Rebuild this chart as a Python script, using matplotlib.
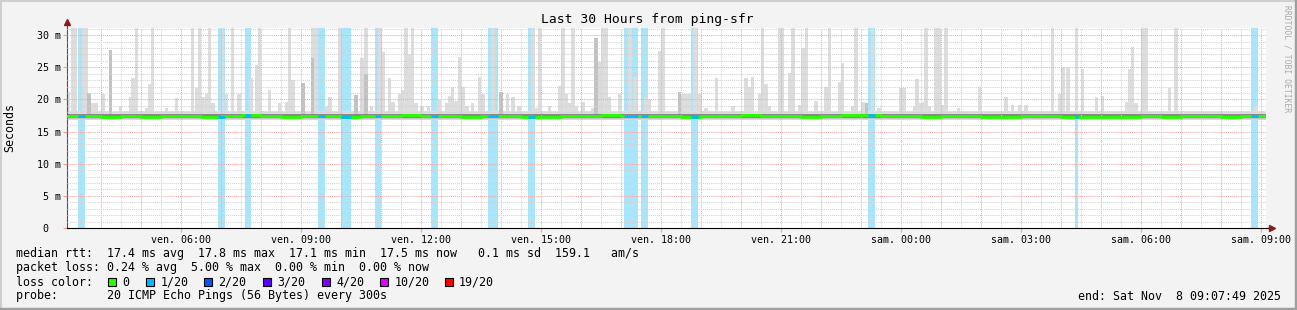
import numpy as np
import matplotlib
matplotlib.use('Agg')
import matplotlib.pyplot as plt
from matplotlib.patches import Rectangle
from matplotlib.lines import Line2D

W, H = 1297, 310
MONO = 'DejaVu Sans Mono'

# time axis: hours since Friday 00:00 (graph ends Sat 09:07:49)
t_start, t_end = 3.15, 33.13

# smoke columns (5 min each): time and highest ping (ms); 31.5 = clipped at top
spike_t = [3.18, 3.28, 3.35, 3.55, 3.63, 3.70, 3.80, 3.88, 4.05, 4.23,
           4.48, 4.73, 4.80, 4.89, 5.13, 5.21, 5.29, 5.63, 5.88, 6.29,
           6.38, 6.46, 6.55, 6.63, 6.71, 6.80, 7.04, 7.13, 7.29, 7.45,
           7.75, 7.89, 7.96,
           8.21, 8.46, 8.64, 8.71, 8.80, 9.05, 9.29, 9.38, 9.65, 9.73,
           9.96, 10.38, 10.53, 10.63, 10.76, 10.98, 11.06, 11.21, 11.30, 11.46,
           11.55, 11.63, 11.71, 11.79, 11.88, 12.03, 12.19, 12.45, 12.64, 12.71,
           12.79, 12.88, 12.96, 13.05,
           13.15, 13.29, 13.46, 13.55, 13.80, 14.00, 14.16, 14.30, 14.45, 14.80,
           14.89, 14.96, 15.21, 15.46, 15.55, 15.64, 15.71, 15.80, 15.89, 16.05,
           16.30, 16.38, 16.46, 16.55, 16.64, 16.71, 16.96, 17.23, 17.35, 17.63,
           17.71, 17.96, 18.05,
           18.46, 18.55, 18.64, 18.71, 18.85, 18.98, 19.13, 19.39, 19.80, 20.13,
           20.21, 20.29, 20.46, 20.54, 20.63, 20.71, 20.96, 21.04, 21.21, 21.30,
           21.46, 21.55, 21.64, 21.88, 22.13, 22.21, 22.46, 22.54, 22.79, 22.88,
           23.05,
           23.14, 23.29, 23.45, 24.00, 24.08, 24.35, 24.40, 24.50, 24.56, 24.63,
           24.71, 24.88, 24.96, 25.04, 25.13, 25.44, 25.96, 26.63, 26.79, 26.96,
           27.13, 27.79, 27.96, 28.05,
           28.18, 28.39, 28.54, 28.89, 29.05, 29.64, 29.71, 29.80, 29.88, 30.04,
           30.13, 30.71, 30.88, 32.88]
spike_hi = [21.2, 31.5, 31.5, 31.5, 31.5, 21.0, 19.4, 19.4, 20.8, 27.7,
            18.9, 20.4, 23.3, 31.5, 18.6, 22.4, 31.5, 18.6, 20.2, 31.5,
            21.7, 31.5, 20.4, 20.8, 31.5, 19.4, 31.5, 20.8, 31.5, 20.8,
            23.3, 25.3, 31.5,
            21.5, 19.4, 19.6, 31.5, 23.0, 22.5, 31.5, 31.5, 18.9, 20.4,
            31.5, 20.7, 26.4, 31.5, 18.9, 31.5, 27.4, 23.3, 19.6, 20.8,
            21.5, 31.5, 27.0, 31.5, 19.4, 18.9, 18.9, 19.9, 19.4, 20.6,
            21.9, 19.8, 26.6, 21.9,
            18.9, 19.4, 23.5, 20.8, 31.5, 21.2, 20.8, 20.4, 18.9, 31.5,
            18.6, 31.5, 18.9, 22.1, 31.5, 20.8, 19.4, 31.5, 18.9, 19.6,
            18.6, 29.5, 25.8, 31.5, 31.5, 20.4, 20.8, 31.5, 23.5, 20.4,
            20.0, 27.5, 31.5,
            21.2, 20.8, 20.8, 20.8, 31.5, 20.8, 18.6, 23.3, 18.9, 23.3,
            21.9, 23.5, 20.8, 31.5, 22.4, 18.9, 31.5, 31.5, 24.1, 31.5,
            19.1, 28.0, 31.5, 19.8, 21.9, 31.5, 22.7, 25.6, 18.9, 31.5,
            19.6,
            19.5, 31.5, 18.6, 21.7, 21.7, 18.9, 23.1, 19.4, 19.6, 31.5,
            18.9, 31.5, 31.5, 19.1, 31.5, 18.6, 21.9, 20.4, 19.1, 19.1,
            19.2, 31.5, 20.8, 25.0,
            24.9, 31.5, 24.7, 20.4, 20.6, 19.6, 24.7, 28.1, 19.4, 31.5,
            31.5, 21.7, 31.5, 18.9]

# darker smoke (inner pings)
dark_t = [3.70, 4.23, 9.05, 9.29, 10.38, 10.63, 14.00, 16.38, 18.46, 23.14]
dark_hi = [21.0, 27.7, 22.5, 26.4, 20.7, 24.0, 21.2, 29.5, 21.2, 19.5]

# periods with 1/20 packet loss (hours)
loss_start = [3.43, 6.93, 7.60, 9.43, 10.00, 10.85, 12.25, 13.68, 14.68,
              17.08, 17.50, 18.75, 23.18, 28.35, 32.75]
loss_end = [3.60, 7.10, 7.75, 9.60, 10.25, 11.00, 12.43, 13.93, 14.85,
            17.43, 17.68, 18.93, 23.35, 28.43, 32.93]

# median rtt every 30 min (ms)
median_t = np.arange(3.0, 34.0, 0.5)
median_ms = [17.4, 17.4, 17.3, 17.4, 17.3, 17.4, 17.4, 17.3, 17.4, 17.5,
             17.4, 17.3, 17.4, 17.4, 17.3, 17.4, 17.4, 17.5, 17.4, 17.4,
             17.3, 17.4, 17.4, 17.3, 17.3, 17.4, 17.4, 17.5, 17.4, 17.4,
             17.4, 17.3, 17.4, 17.4, 17.5, 17.4, 17.4, 17.3, 17.4, 17.5,
             17.5, 17.4, 17.4, 17.3, 17.4, 17.4, 17.3, 17.3, 17.4, 17.4,
             17.3, 17.2, 17.3, 17.3, 17.4, 17.3, 17.4, 17.4, 17.3, 17.4,
             17.4, 17.5]

tick_hours = [6, 9, 12, 15, 18, 21, 24, 27, 30, 33]
tick_labels = ['ven. 06:00', 'ven. 09:00', 'ven. 12:00', 'ven. 15:00', 'ven. 18:00',
               'ven. 21:00', 'sam. 00:00', 'sam. 03:00', 'sam. 06:00', 'sam. 09:00']
y_ticks = [0, 5, 10, 15, 20, 25, 30]
y_labels = ['0  ', '5 m', '10 m', '15 m', '20 m', '25 m', '30 m']

loss_names = ['0', '1/20', '2/20', '3/20', '4/20', '10/20', '19/20']
loss_colors = ['#26ff00', '#00b8ff', '#0059ff', '#5e00ff', '#7e00ff', '#dd00ff', '#ff0000']

fig = plt.figure(figsize=(W / 100, H / 100), dpi=100)
fig.patch.set_facecolor('#f3f3f3')
ax = fig.add_axes([67 / W, 1 - 228 / H, (1266 - 67) / W, 200 / H])
ax.set_facecolor('white')
ax.set_xlim(t_start, t_end)
ax.set_ylim(0, 31.1)

# loss background bars
for a, b in zip(loss_start, loss_end):
    ax.axvspan(a, b, color='#a9e6fb', lw=0, zorder=1)

# smoke
ax.fill_between([t_start, t_end], 16.8, 18.2, color='#e0e0e0', lw=0, zorder=2)
ax.bar(spike_t, [h - 16.8 for h in spike_hi], bottom=16.8, width=1 / 12,
       color='#dddddd', lw=0, zorder=2)
ax.bar(dark_t, [h - 16.9 for h in dark_hi], bottom=16.9, width=1 / 12,
       color='#c2c2c2', lw=0, zorder=2)
ax.fill_between([t_start, t_end], 17.0, 17.8, color='#c4c4c4', lw=0, zorder=2)
ax.fill_between([t_start, t_end], 17.15, 17.65, color='#8a8a8a', lw=0, zorder=2)

# grid
for hh in np.arange(3.5, 33.5, 0.5):
    major = float(hh).is_integer()
    ax.axvline(hh, color='#f2a8a8' if major else '#d2d2d2', lw=0.75,
               ls=(0, (1, 1)), zorder=3)
for v in range(1, 32):
    ax.axhline(v, color='#f2a8a8' if v % 5 == 0 else '#d2d2d2', lw=0.75,
               ls=(0, (1, 1)), zorder=3)

# median line, coloured by loss
ax.plot(median_t, median_ms, drawstyle='steps-post', color='#26ff00', lw=2.0,
        solid_capstyle='butt', zorder=5)
for a, b in zip(loss_start, loss_end):
    i = int((a - 3.0) / 0.5)
    ax.plot([a, b], [median_ms[i], median_ms[i]], color='#00b8ff', lw=2.0,
            solid_capstyle='butt', zorder=6)

for s in ['top', 'right']:
    ax.spines[s].set_visible(False)
ax.spines['left'].set_color('#505050')
ax.spines['bottom'].set_color('black')
ax.spines['left'].set_linewidth(0.8)
ax.spines['bottom'].set_linewidth(0.8)

# axis arrows
ax.add_line(Line2D([0, 0], [1, 1.02], transform=ax.transAxes, color='#505050', lw=0.8, clip_on=False))
ax.plot([0], [1.03], marker='^', ms=4, color='#8b1a1a', transform=ax.transAxes, clip_on=False)
ax.add_line(Line2D([1, 1.003], [0, 0], transform=ax.transAxes, color='black', lw=0.8, clip_on=False))
ax.plot([1.005], [0], marker='>', ms=4, color='#8b1a1a', transform=ax.transAxes, clip_on=False)

ax.set_xticks(tick_hours)
ax.set_xticklabels(tick_labels, family=MONO, fontsize=7.2)
ax.set_yticks(y_ticks)
ax.set_yticklabels(y_labels, family=MONO, fontsize=7.2)
ax.tick_params(axis='x', length=3, color='#f0a0a0', pad=2)
ax.tick_params(axis='y', length=3, color='#f0a0a0', pad=1)

fig.text(647 / W, 1 - 20 / H, 'Last 30 Hours from ping-sfr', ha='center', va='center',
         family=MONO, fontsize=9.4)
fig.text(10 / W, 1 - 127 / H, 'Seconds', rotation=90, ha='center', va='center',
         family=MONO, fontsize=8.4)
fig.text(1287 / W, 1 - 59 / H, 'RRDTOOL / TOBI OETIKER', rotation=270, ha='center',
         va='center', family=MONO, fontsize=5.8, color='#aaaaaa')

fs = 8.4
fig.text(16 / W, 1 - 254 / H,
         'median rtt:  17.4 ms avg  17.8 ms max  17.1 ms min  17.5 ms now   0.1 ms sd  159.1   am/s',
         family=MONO, fontsize=fs, va='center')
fig.text(16 / W, 1 - 268 / H,
         'packet loss: 0.24 % avg  5.00 % max  0.00 % min  0.00 % now',
         family=MONO, fontsize=fs, va='center')
fig.text(16 / W, 1 - 282 / H, 'loss color:', family=MONO, fontsize=fs, va='center')
box_x = [108, 146, 204, 263, 321.5, 380, 444.5]
for bx, name, col in zip(box_x, loss_names, loss_colors):
    fig.add_artist(Rectangle((bx / W, 1 - 286 / H), 8 / W, 8 / H, transform=fig.transFigure,
                             facecolor=col, edgecolor='black', lw=0.8))
    fig.text((bx + 14.5) / W, 1 - 282 / H, name, family=MONO, fontsize=fs, va='center')
fig.text(16 / W, 1 - 296 / H, 'probe:       20 ICMP Echo Pings (56 Bytes) every 300s',
         family=MONO, fontsize=fs, va='center')
fig.text(1281 / W, 1 - 296 / H, 'end: Sat Nov  8 09:07:49 2025', family=MONO, fontsize=fs,
         va='center', ha='right')

# frame
fig.add_artist(Line2D([0, 1], [1 - 1 / H, 1 - 1 / H], transform=fig.transFigure, color='#cfcfcf', lw=1.5))
fig.add_artist(Line2D([1 / W, 1 / W], [0, 1], transform=fig.transFigure, color='#cfcfcf', lw=1.5))
fig.add_artist(Line2D([0, 1], [1.5 / H, 1.5 / H], transform=fig.transFigure, color='#9f9f9f', lw=2.5))
fig.add_artist(Line2D([1 - 1.5 / W, 1 - 1.5 / W], [0, 1], transform=fig.transFigure, color='#9f9f9f', lw=2.5))

fig.savefig('out.png', dpi=100, facecolor=fig.get_facecolor())
